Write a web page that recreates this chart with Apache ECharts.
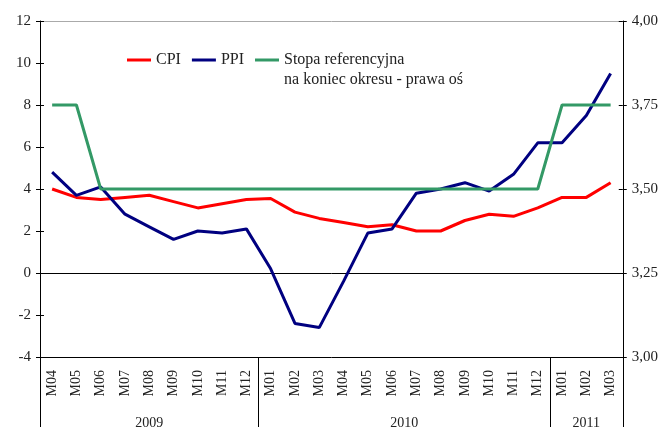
<!DOCTYPE html>
<html>
<head>
<meta charset="utf-8">
<script src="https://cdn.jsdelivr.net/npm/echarts@6/dist/echarts.min.js"></script>
<style>
html, body { margin: 0; padding: 0; background: #fff; }
#main { width: 661px; height: 430px; }
</style>
</head>
<body>
<div id="main"></div>
<script>
// dane
var months = ['M04','M05','M06','M07','M08','M09','M10','M11','M12',
              'M01','M02','M03','M04','M05','M06','M07','M08','M09','M10','M11','M12',
              'M01','M02','M03'];
var cpi  = [4.0, 3.6, 3.5, 3.6, 3.7, 3.4, 3.1, 3.3, 3.5,
            3.55, 2.9, 2.6, 2.4, 2.2, 2.3, 2.0, 2.0, 2.5, 2.8, 2.7, 3.1,
            3.6, 3.6, 4.3];
var ppi  = [4.8, 3.7, 4.1, 2.8, 2.2, 1.6, 2.0, 1.9, 2.1,
            0.2, -2.4, -2.6, -0.4, 1.9, 2.1, 3.8, 4.0, 4.3, 3.9, 4.7, 6.2,
            6.2, 7.5, 9.5];
var rate = [3.75, 3.75, 3.50, 3.50, 3.50, 3.50, 3.50, 3.50, 3.50,
            3.50, 3.50, 3.50, 3.50, 3.50, 3.50, 3.50, 3.50, 3.50, 3.50, 3.50, 3.50,
            3.75, 3.75, 3.75];
var years = ['2009', '2010', '2011'];
var yearSpans = [9, 12, 3];
var leftMin = -4, leftMax = 12, leftStep = 2;
var rightMin = 3, rightMax = 4, rightStep = 0.25;
var rateName = 'Stopa referencyjna\nna koniec okresu - prawa oś';

// os lat: pol-miesiace, zeby etykieta wypadla na srodku roku
var yearSlots = [];
for (var i = 0; i <= months.length * 2; i++) yearSlots.push('');
var yearEdges = [0];
var edge = 0;
years.forEach(function (y, i) {
    yearSlots[edge * 2 + yearSpans[i]] = y;
    edge += yearSpans[i];
    yearEdges.push(edge * 2);
});

var serif = '"Liberation Serif", "DejaVu Serif", serif';
var txt = '#222';

var myChart = echarts.init(document.getElementById('main'));

var option = {
    animation: false,
    backgroundColor: '#fff',
    grid: { left: 40, right: 38, top: 21, bottom: 70 },
    legend: {
        left: 127,
        top: 30,
        padding: 0,
        icon: 'rect',
        itemWidth: 24,
        itemHeight: 3,
        itemGap: 11,
        textStyle: { fontFamily: serif, fontSize: 16, lineHeight: 20, color: txt },
        // pusta linia nad opisem stopy, zeby pierwsza linia stala przy ikonie
        formatter: function (name) { return name === rateName ? ' \n' + name : name; },
        data: ['CPI', 'PPI', rateName]
    },
    xAxis: [
        { // linia zera, kreski do gory
            type: 'category', data: months, position: 'bottom',
            axisLine: { onZero: true, onZeroAxisIndex: 0, lineStyle: { color: '#000', width: 1 } },
            axisTick: { inside: true, length: 5, lineStyle: { color: '#000' } },
            axisLabel: { show: false }
        },
        { // linia zera, kreski w dol
            type: 'category', data: months, position: 'bottom',
            axisLine: { show: false, onZero: true, onZeroAxisIndex: 0 },
            axisTick: { length: 5, lineStyle: { color: '#000' } },
            axisLabel: { show: false }
        },
        { // miesiace
            type: 'category', data: months, position: 'bottom',
            axisLine: { onZero: false, lineStyle: { color: '#000' } },
            axisTick: { length: 40, lineStyle: { color: '#555' } },
            axisLabel: { interval: 0, rotate: 90, margin: 13, fontFamily: serif, fontSize: 14, color: txt }
        },
        { // lata
            type: 'category', data: yearSlots, boundaryGap: false, position: 'bottom',
            axisLine: { show: false, onZero: false },
            axisTick: {
                length: 70,
                interval: function (idx) { return yearEdges.indexOf(idx) >= 0; },
                lineStyle: { color: '#000' }
            },
            axisLabel: { interval: 0, margin: 59, fontFamily: serif, fontSize: 14, color: txt }
        },
        { // gorna ramka
            type: 'category', data: months, position: 'top',
            axisLine: { onZero: false, lineStyle: { color: '#aaa' } },
            axisTick: { show: false },
            axisLabel: { show: false }
        }
    ],
    yAxis: [
        {
            type: 'value', position: 'left', min: leftMin, max: leftMax, interval: leftStep,
            axisLine: { show: true, lineStyle: { color: '#000' } },
            axisTick: { show: true, length: 4, lineStyle: { color: '#000' } },
            axisLabel: { margin: 9, fontFamily: serif, fontSize: 15, color: txt },
            splitLine: { show: false }
        },
        {
            type: 'value', position: 'right', min: rightMin, max: rightMax, interval: rightStep,
            axisLine: { show: true, lineStyle: { color: '#000' } },
            axisTick: { show: true, length: 4, lineStyle: { color: '#000' } },
            axisLabel: {
                margin: 9, fontFamily: serif, fontSize: 15, color: txt,
                formatter: function (v) { return v.toFixed(2).replace('.', ','); }
            },
            splitLine: { show: false }
        },
        {
            type: 'value', position: 'left', min: leftMin, max: leftMax, interval: leftStep,
            axisLine: { show: false },
            axisTick: { show: true, inside: true, length: 4, lineStyle: { color: '#000' } },
            axisLabel: { show: false },
            splitLine: { show: false }
        },
        {
            type: 'value', position: 'right', min: rightMin, max: rightMax, interval: rightStep,
            axisLine: { show: false },
            axisTick: { show: true, inside: true, length: 4, lineStyle: { color: '#000' } },
            axisLabel: { show: false },
            splitLine: { show: false }
        }
    ],
    series: [
        {
            name: 'CPI', type: 'line', data: cpi, xAxisIndex: 0, yAxisIndex: 0,
            symbol: 'none', lineStyle: { color: '#ff0000', width: 3 }, itemStyle: { color: '#ff0000' }
        },
        {
            name: 'PPI', type: 'line', data: ppi, xAxisIndex: 0, yAxisIndex: 0,
            symbol: 'none', lineStyle: { color: '#000080', width: 3 }, itemStyle: { color: '#000080' }
        },
        {
            name: rateName, type: 'line', data: rate, xAxisIndex: 0, yAxisIndex: 1,
            symbol: 'none', lineStyle: { color: '#339966', width: 3 }, itemStyle: { color: '#339966' }
        }
    ]
};
myChart.setOption(option);
</script>
</body>
</html>
